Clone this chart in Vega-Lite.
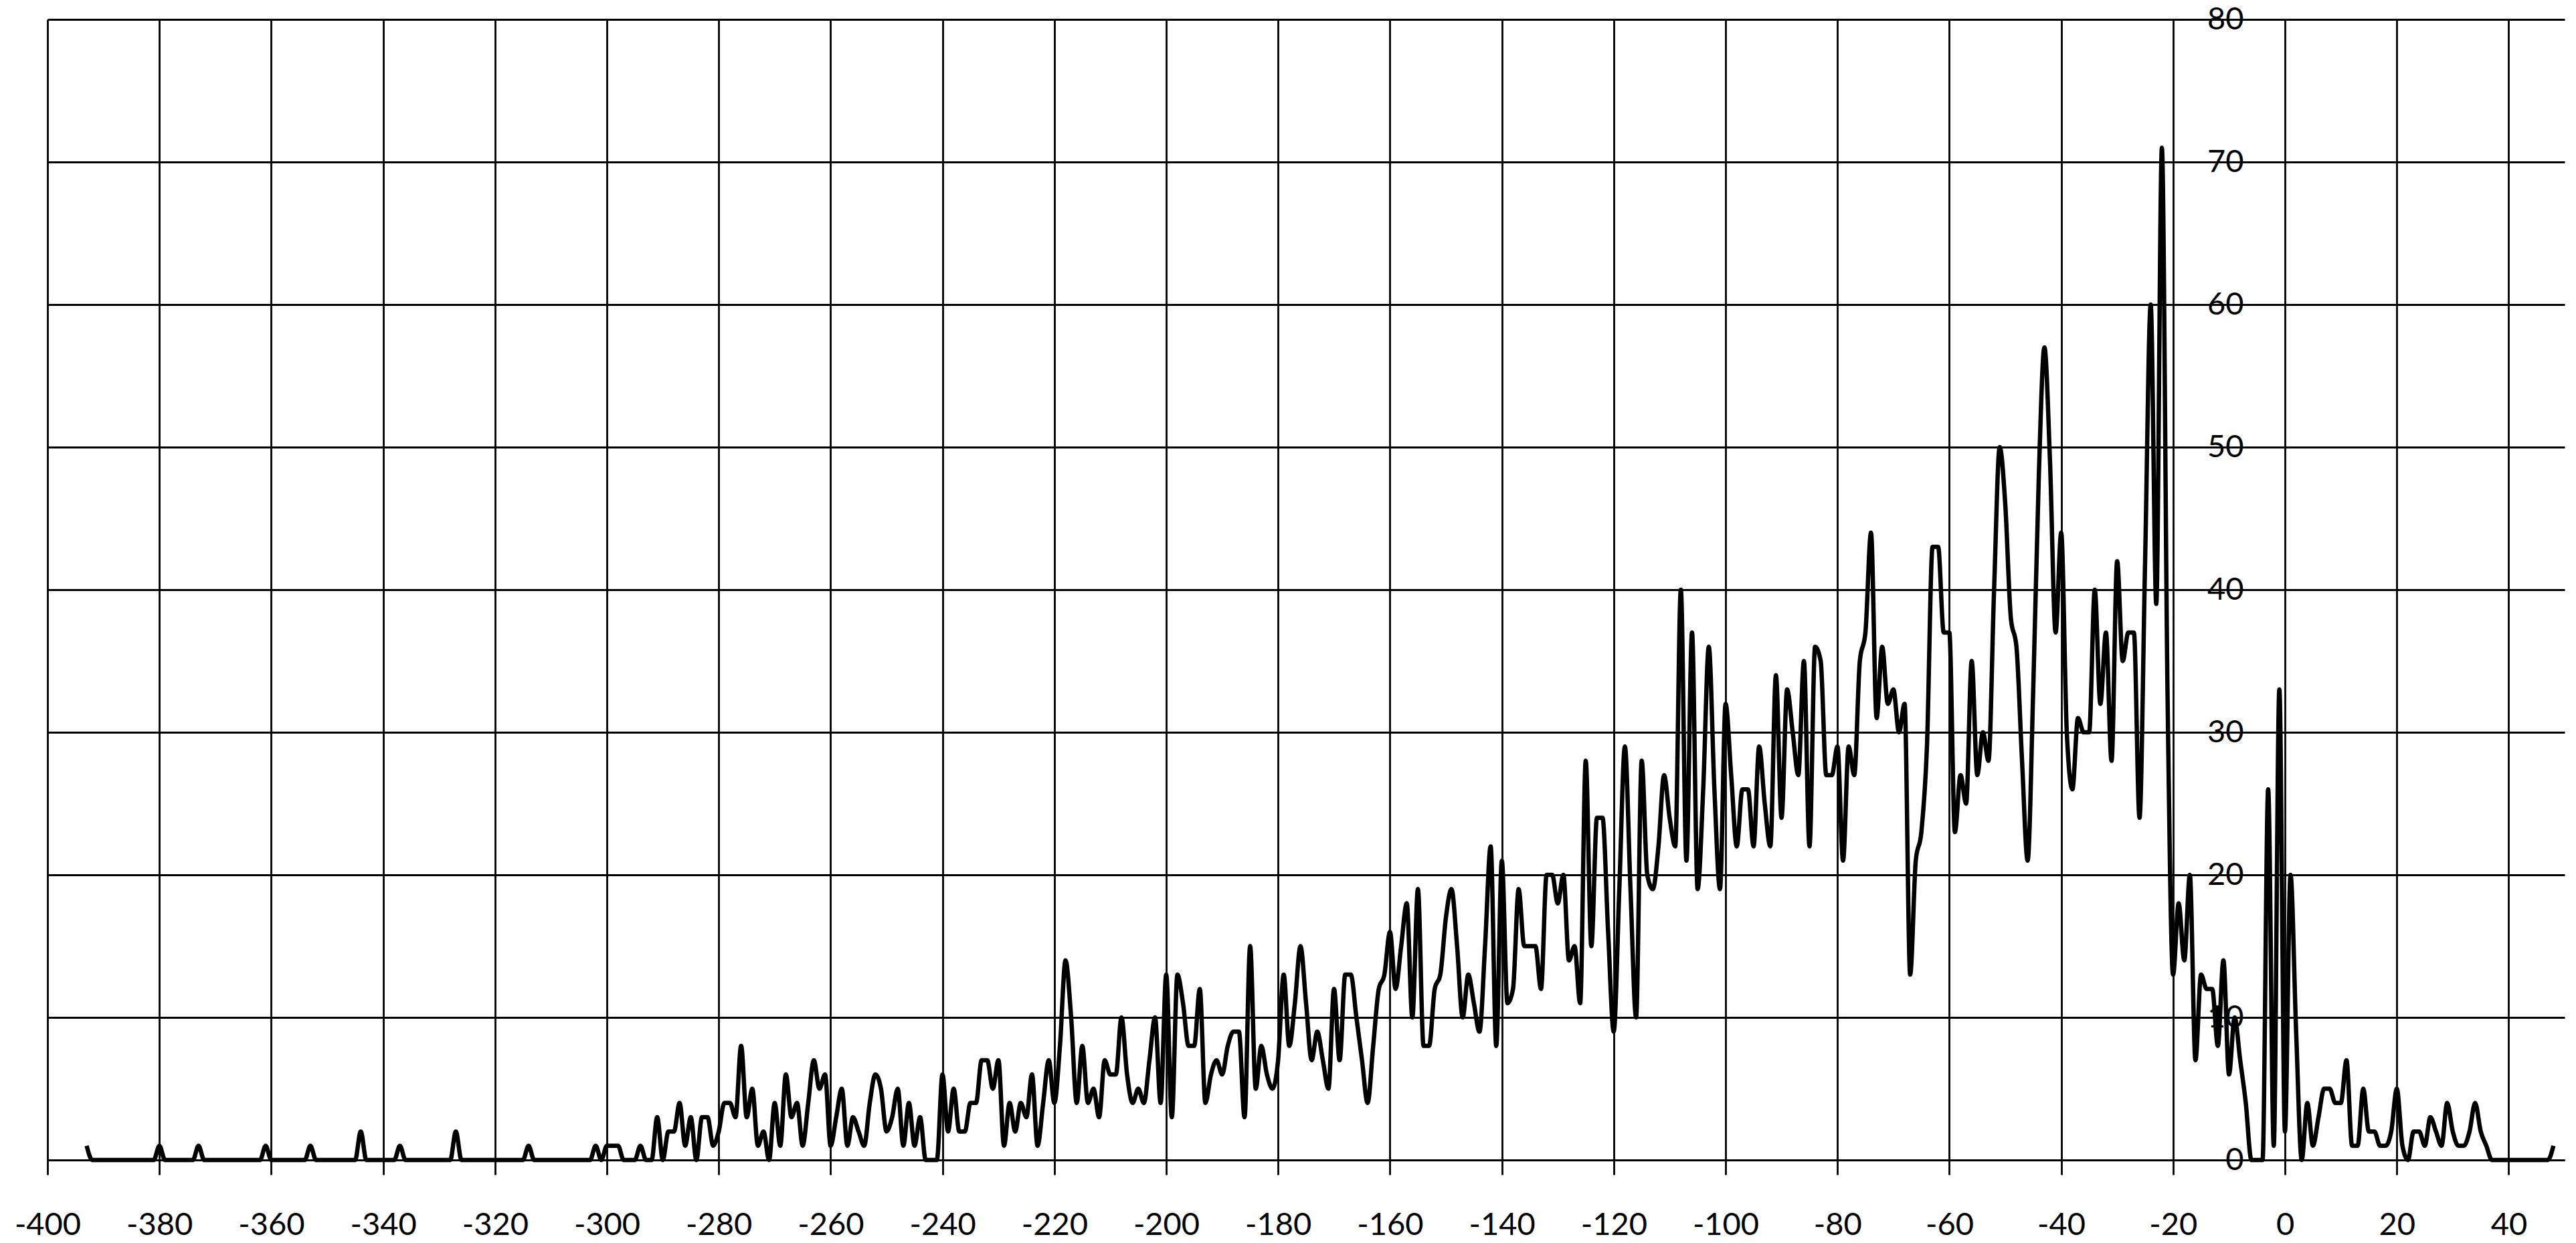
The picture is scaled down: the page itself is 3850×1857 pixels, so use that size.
{
  "$schema": "https://vega.github.io/schema/vega-lite/v6.json",
  "width": 3762,
  "height": 1704,
  "autosize": {"type": "none"},
  "padding": {"left": 71, "top": 29, "right": 17, "bottom": 124},
  "background": "white",
  "config": {
    "view": {"stroke": null},
    "axis": {"labelFont": "Lato", "labelFontSize": 47, "labelColor": "black", "gridColor": "black", "gridOpacity": 1, "gridWidth": 2.8, "tickColor": "black", "domainColor": "black"}
  },
  "data": {"values": [
    {"x":-393,"y":1},{"x":-392,"y":0},{"x":-391,"y":0},{"x":-390,"y":0},{"x":-389,"y":0},{"x":-388,"y":0},{"x":-387,"y":0},{"x":-386,"y":0},{"x":-385,"y":0},{"x":-384,"y":0},{"x":-383,"y":0},{"x":-382,"y":0},{"x":-381,"y":0},
    {"x":-380,"y":1},{"x":-379,"y":0},{"x":-378,"y":0},{"x":-377,"y":0},{"x":-376,"y":0},{"x":-375,"y":0},{"x":-374,"y":0},{"x":-373,"y":1},{"x":-372,"y":0},{"x":-371,"y":0},
    {"x":-370,"y":0},{"x":-369,"y":0},{"x":-368,"y":0},{"x":-367,"y":0},{"x":-366,"y":0},{"x":-365,"y":0},{"x":-364,"y":0},{"x":-363,"y":0},{"x":-362,"y":0},{"x":-361,"y":1},
    {"x":-360,"y":0},{"x":-359,"y":0},{"x":-358,"y":0},{"x":-357,"y":0},{"x":-356,"y":0},{"x":-355,"y":0},{"x":-354,"y":0},{"x":-353,"y":1},{"x":-352,"y":0},{"x":-351,"y":0},
    {"x":-350,"y":0},{"x":-349,"y":0},{"x":-348,"y":0},{"x":-347,"y":0},{"x":-346,"y":0},{"x":-345,"y":0},{"x":-344,"y":2},{"x":-343,"y":0},{"x":-342,"y":0},{"x":-341,"y":0},
    {"x":-340,"y":0},{"x":-339,"y":0},{"x":-338,"y":0},{"x":-337,"y":1},{"x":-336,"y":0},{"x":-335,"y":0},{"x":-334,"y":0},{"x":-333,"y":0},{"x":-332,"y":0},{"x":-331,"y":0},
    {"x":-330,"y":0},{"x":-329,"y":0},{"x":-328,"y":0},{"x":-327,"y":2},{"x":-326,"y":0},{"x":-325,"y":0},{"x":-324,"y":0},{"x":-323,"y":0},{"x":-322,"y":0},{"x":-321,"y":0},
    {"x":-320,"y":0},{"x":-319,"y":0},{"x":-318,"y":0},{"x":-317,"y":0},{"x":-316,"y":0},{"x":-315,"y":0},{"x":-314,"y":1},{"x":-313,"y":0},{"x":-312,"y":0},{"x":-311,"y":0},
    {"x":-310,"y":0},{"x":-309,"y":0},{"x":-308,"y":0},{"x":-307,"y":0},{"x":-306,"y":0},{"x":-305,"y":0},{"x":-304,"y":0},{"x":-303,"y":0},{"x":-302,"y":1},{"x":-301,"y":0},
    {"x":-300,"y":1},{"x":-299,"y":1},{"x":-298,"y":1},{"x":-297,"y":0},{"x":-296,"y":0},{"x":-295,"y":0},{"x":-294,"y":1},{"x":-293,"y":0},{"x":-292,"y":0},{"x":-291,"y":3},
    {"x":-290,"y":0},{"x":-289,"y":2},{"x":-288,"y":2},{"x":-287,"y":4},{"x":-286,"y":1},{"x":-285,"y":3},{"x":-284,"y":0},{"x":-283,"y":3},{"x":-282,"y":3},{"x":-281,"y":1},
    {"x":-280,"y":2},{"x":-279,"y":4},{"x":-278,"y":4},{"x":-277,"y":3},{"x":-276,"y":8},{"x":-275,"y":3},{"x":-274,"y":5},{"x":-273,"y":1},{"x":-272,"y":2},{"x":-271,"y":0},
    {"x":-270,"y":4},{"x":-269,"y":1},{"x":-268,"y":6},{"x":-267,"y":3},{"x":-266,"y":4},{"x":-265,"y":1},{"x":-264,"y":4},{"x":-263,"y":7},{"x":-262,"y":5},{"x":-261,"y":6},
    {"x":-260,"y":1},{"x":-259,"y":3},{"x":-258,"y":5},{"x":-257,"y":1},{"x":-256,"y":3},{"x":-255,"y":2},{"x":-254,"y":1},{"x":-253,"y":4},{"x":-252,"y":6},{"x":-251,"y":5},
    {"x":-250,"y":2},{"x":-249,"y":3},{"x":-248,"y":5},{"x":-247,"y":1},{"x":-246,"y":4},{"x":-245,"y":1},{"x":-244,"y":3},{"x":-243,"y":0},{"x":-242,"y":0},{"x":-241,"y":0},
    {"x":-240,"y":6},{"x":-239,"y":2},{"x":-238,"y":5},{"x":-237,"y":2},{"x":-236,"y":2},{"x":-235,"y":4},{"x":-234,"y":4},{"x":-233,"y":7},{"x":-232,"y":7},{"x":-231,"y":5},
    {"x":-230,"y":7},{"x":-229,"y":1},{"x":-228,"y":4},{"x":-227,"y":2},{"x":-226,"y":4},{"x":-225,"y":3},{"x":-224,"y":6},{"x":-223,"y":1},{"x":-222,"y":4},{"x":-221,"y":7},
    {"x":-220,"y":4},{"x":-219,"y":8},{"x":-218,"y":14},{"x":-217,"y":10},{"x":-216,"y":4},{"x":-215,"y":8},{"x":-214,"y":4},{"x":-213,"y":5},{"x":-212,"y":3},{"x":-211,"y":7},
    {"x":-210,"y":6},{"x":-209,"y":6},{"x":-208,"y":10},{"x":-207,"y":6},{"x":-206,"y":4},{"x":-205,"y":5},{"x":-204,"y":4},{"x":-203,"y":7},{"x":-202,"y":10},{"x":-201,"y":4},
    {"x":-200,"y":13},{"x":-199,"y":3},{"x":-198,"y":13},{"x":-197,"y":11},{"x":-196,"y":8},{"x":-195,"y":8},{"x":-194,"y":12},{"x":-193,"y":4},{"x":-192,"y":6},{"x":-191,"y":7},
    {"x":-190,"y":6},{"x":-189,"y":8},{"x":-188,"y":9},{"x":-187,"y":9},{"x":-186,"y":3},{"x":-185,"y":15},{"x":-184,"y":5},{"x":-183,"y":8},{"x":-182,"y":6},{"x":-181,"y":5},
    {"x":-180,"y":7},{"x":-179,"y":13},{"x":-178,"y":8},{"x":-177,"y":11},{"x":-176,"y":15},{"x":-175,"y":11},{"x":-174,"y":7},{"x":-173,"y":9},{"x":-172,"y":7},{"x":-171,"y":5},
    {"x":-170,"y":12},{"x":-169,"y":7},{"x":-168,"y":13},{"x":-167,"y":13},{"x":-166,"y":10},{"x":-165,"y":7},{"x":-164,"y":4},{"x":-163,"y":8},{"x":-162,"y":12},{"x":-161,"y":13},
    {"x":-160,"y":16},{"x":-159,"y":12},{"x":-158,"y":15},{"x":-157,"y":18},{"x":-156,"y":10},{"x":-155,"y":19},{"x":-154,"y":8},{"x":-153,"y":8},{"x":-152,"y":12},{"x":-151,"y":13},
    {"x":-150,"y":17},{"x":-149,"y":19},{"x":-148,"y":15},{"x":-147,"y":10},{"x":-146,"y":13},{"x":-145,"y":11},{"x":-144,"y":9},{"x":-143,"y":15},{"x":-142,"y":22},{"x":-141,"y":8},
    {"x":-140,"y":21},{"x":-139,"y":11},{"x":-138,"y":12},{"x":-137,"y":19},{"x":-136,"y":15},{"x":-135,"y":15},{"x":-134,"y":15},{"x":-133,"y":12},{"x":-132,"y":20},{"x":-131,"y":20},
    {"x":-130,"y":18},{"x":-129,"y":20},{"x":-128,"y":14},{"x":-127,"y":15},{"x":-126,"y":11},{"x":-125,"y":28},{"x":-124,"y":15},{"x":-123,"y":24},{"x":-122,"y":24},{"x":-121,"y":16},
    {"x":-120,"y":9},{"x":-119,"y":19},{"x":-118,"y":29},{"x":-117,"y":19},{"x":-116,"y":10},{"x":-115,"y":28},{"x":-114,"y":20},{"x":-113,"y":19},{"x":-112,"y":22},{"x":-111,"y":27},
    {"x":-110,"y":24},{"x":-109,"y":22},{"x":-108,"y":40},{"x":-107,"y":21},{"x":-106,"y":37},{"x":-105,"y":19},{"x":-104,"y":26},{"x":-103,"y":36},{"x":-102,"y":26},{"x":-101,"y":19},
    {"x":-100,"y":32},{"x":-99,"y":27},{"x":-98,"y":22},{"x":-97,"y":26},{"x":-96,"y":26},{"x":-95,"y":22},{"x":-94,"y":29},{"x":-93,"y":25},{"x":-92,"y":22},{"x":-91,"y":34},
    {"x":-90,"y":24},{"x":-89,"y":33},{"x":-88,"y":30},{"x":-87,"y":27},{"x":-86,"y":35},{"x":-85,"y":22},{"x":-84,"y":36},{"x":-83,"y":35},{"x":-82,"y":27},{"x":-81,"y":27},
    {"x":-80,"y":29},{"x":-79,"y":21},{"x":-78,"y":29},{"x":-77,"y":27},{"x":-76,"y":35},{"x":-75,"y":37},{"x":-74,"y":44},{"x":-73,"y":31},{"x":-72,"y":36},{"x":-71,"y":32},
    {"x":-70,"y":33},{"x":-69,"y":30},{"x":-68,"y":32},{"x":-67,"y":13},{"x":-66,"y":21},{"x":-65,"y":23},{"x":-64,"y":29},{"x":-63,"y":43},{"x":-62,"y":43},{"x":-61,"y":37},
    {"x":-60,"y":37},{"x":-59,"y":23},{"x":-58,"y":27},{"x":-57,"y":25},{"x":-56,"y":35},{"x":-55,"y":27},{"x":-54,"y":30},{"x":-53,"y":28},{"x":-52,"y":40},{"x":-51,"y":50},
    {"x":-50,"y":46},{"x":-49,"y":38},{"x":-48,"y":36},{"x":-47,"y":28},{"x":-46,"y":21},{"x":-45,"y":33},{"x":-44,"y":48},{"x":-43,"y":57},{"x":-42,"y":49},{"x":-41,"y":37},
    {"x":-40,"y":44},{"x":-39,"y":30},{"x":-38,"y":26},{"x":-37,"y":31},{"x":-36,"y":30},{"x":-35,"y":30},{"x":-34,"y":40},{"x":-33,"y":32},{"x":-32,"y":37},{"x":-31,"y":28},
    {"x":-30,"y":42},{"x":-29,"y":35},{"x":-28,"y":37},{"x":-27,"y":37},{"x":-26,"y":24},{"x":-25,"y":42},{"x":-24,"y":60},{"x":-23,"y":39},{"x":-22,"y":71},{"x":-21,"y":33},
    {"x":-20,"y":13},{"x":-19,"y":18},{"x":-18,"y":14},{"x":-17,"y":20},{"x":-16,"y":7},{"x":-15,"y":13},{"x":-14,"y":12},{"x":-13,"y":12},{"x":-12,"y":8},{"x":-11,"y":14},
    {"x":-10,"y":6},{"x":-9,"y":10},{"x":-8,"y":7},{"x":-7,"y":4},{"x":-6,"y":0},{"x":-5,"y":0},{"x":-4,"y":0},{"x":-3,"y":26},{"x":-2,"y":1},{"x":-1,"y":33},
    {"x":0,"y":2},{"x":1,"y":20},{"x":2,"y":9},{"x":3,"y":0},{"x":4,"y":4},{"x":5,"y":1},{"x":6,"y":3},{"x":7,"y":5},{"x":8,"y":5},{"x":9,"y":4},
    {"x":10,"y":4},{"x":11,"y":7},{"x":12,"y":1},{"x":13,"y":1},{"x":14,"y":5},{"x":15,"y":2},{"x":16,"y":2},{"x":17,"y":1},{"x":18,"y":1},{"x":19,"y":2},
    {"x":20,"y":5},{"x":21,"y":1},{"x":22,"y":0},{"x":23,"y":2},{"x":24,"y":2},{"x":25,"y":1},{"x":26,"y":3},{"x":27,"y":2},{"x":28,"y":1},{"x":29,"y":4},
    {"x":30,"y":2},{"x":31,"y":1},{"x":32,"y":1},{"x":33,"y":2},{"x":34,"y":4},{"x":35,"y":2},{"x":36,"y":1},{"x":37,"y":0},{"x":38,"y":0},{"x":39,"y":0},
    {"x":40,"y":0},{"x":41,"y":0},{"x":42,"y":0},{"x":43,"y":0},{"x":44,"y":0},{"x":45,"y":0},{"x":46,"y":0},{"x":47,"y":0},{"x":48,"y":1}
  ]},
  "mark": {"type": "line", "interpolate": "monotone", "color": "black", "strokeWidth": 6.5},
  "encoding": {
    "x": {
      "field": "x", "type": "quantitative",
      "scale": {"domain": [-400, 50], "nice": false, "zero": false},
      "axis": {
        "title": null,
        "values": [-400,-380,-360,-340,-320,-300,-280,-260,-240,-220,-200,-180,-160,-140,-120,-100,-80,-60,-40,-20,0,20,40],
        "labelExpr": "datum.value < 0 ? '-' + abs(datum.value) : '' + datum.value",
        "grid": true, "tickSize": 22, "tickWidth": 2.8, "domainWidth": 3,
        "labelPadding": 52, "labelDx": -10, "labelFlush": false, "labelOverlap": false
      }
    },
    "y": {
      "field": "y", "type": "quantitative",
      "scale": {"domain": [0, 80], "nice": false},
      "axis": {
        "title": null, "orient": "left", "offset": -3344,
        "values": [0,10,20,30,40,50,60,70,80],
        "grid": true, "ticks": false, "domain": false,
        "labelPadding": 62, "labelFlush": false, "labelOverlap": false
      }
    }
  }
}
